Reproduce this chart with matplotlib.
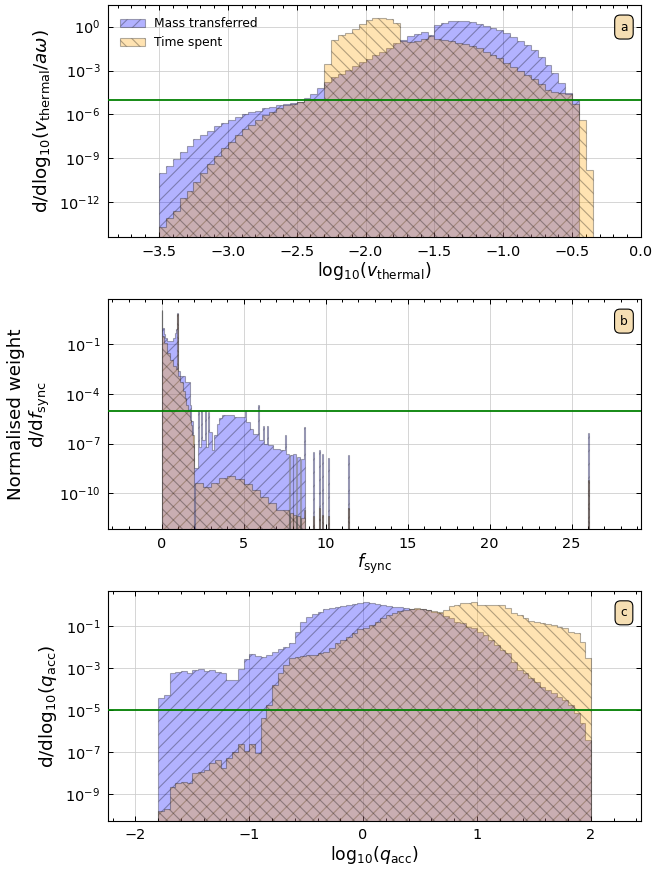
import numpy as np
import matplotlib
matplotlib.use("Agg")
import matplotlib.pyplot as plt
from matplotlib.ticker import MultipleLocator, FixedLocator, NullLocator, LogFormatterSciNotation

# ---------------- data (log10 of the normalised weights) ----------------
# (a) thermal velocity, 0.05-wide bins starting at -3.5
vth_start, vth_width = -3.5, 0.05
vth_mass = [-10.02, -9.5, -9.06, -8.57, -8.15, -7.7, -7.4, -7.1, -6.8, -6.55,
            -6.35, -6.15, -6.0, -5.85, -5.73, -5.58, -5.47, -5.38, -5.3, -5.23,
            -5.13, -4.85, -4.6, -4.2,
            -3.76, -3.46, -3.23, -2.96, -2.69, -2.43, -2.18, -1.96, -1.74, -1.45, -1.15,
            -0.88, -0.66, -0.47, -0.34, -0.55, 0.12, 0.27, 0.36, 0.39, 0.36,
            0.3, 0.2, 0.07, -0.08, -0.25, -0.45, -0.68, -0.96, -1.25, -1.59,
            -2.05, -2.62, -3.14, -3.85, -4.5, -5.0,
            None, None]
vth_time = [-13.67, -13.1, -12.6, -11.7, -11.2, -10.6, -10.02, -9.41, -8.82, -8.31,
            -7.86, -7.40, -6.99, -6.72, -6.38, -6.04, -5.81, -5.58, -5.35, -5.26,
            -5.13, -5.01, -4.97, -4.97,
            -2.55, -0.92, -0.6, -0.4, -0.15, 0.2, 0.46, 0.57, 0.62, 0.5, 0.25,
            -1.0, -1.05, -0.95, -0.85, -0.62, -0.82, -0.88, -1.0, -1.12, -1.2,
            -1.3, -1.48, -1.7, -1.93, -2.16, -2.45, -2.75, -3.05, -3.3, -3.6,
            -3.95, -4.3, -4.48, -4.55, -4.58, -5.3, -6.35, -9.8]

# (b) synchronicity factor, variable-width bins (None = empty bin)
fs_mass_edges = [0.00, 0.05, 0.12, 0.20, 0.30, 0.70, 0.80, 0.90, 0.96, 1.02,
                 1.15, 1.40, 1.75, 1.82, 1.90, 1.95, 2.24, 2.30, 2.42, 2.48,
                 2.62, 2.68, 2.82, 2.88, 3.10, 3.20, 3.35, 3.50, 3.70, 4.40,
                 5.10, 5.16, 5.40, 5.60, 5.86, 5.92, 6.20, 6.26, 6.45, 6.51,
                 6.80, 7.20, 7.50, 7.56, 7.75, 7.80, 8.00, 8.04, 8.20, 8.24,
                 8.45, 8.50, 8.70, 8.76, 9.22, 9.28, 9.62, 9.68, 9.80, 9.86,
                 10.13, 10.19, 11.35, 11.41, 25.98, 26.04]
fs_mass = [1.09, -0.02, -0.40, -0.62, -0.77, -0.62, -0.30, -0.10, 0.89, -2.60,
           -2.90, -3.30, -4.65, -5.65, -7.00, -8.50, -5.05, -7.20, -5.05, -6.80,
           -5.05, -7.20, -5.10, -6.30, -7.40, -6.50, -5.80, -5.45, -5.30, -5.40,
           -5.05, -5.70, -6.10, -6.40, -4.65, -6.80, -5.95, -7.00, -5.95, -7.10,
           -7.30, -7.40, -6.50, -7.60, None, -7.70, None, -7.60, None, -7.80,
           None, -7.90, -6.00, None, -7.50, None, -7.40, None, -7.60, None,
           -7.85, None, -7.70, None, -6.37]
fs_time_edges = [0.00, 0.05, 0.15, 0.30, 0.50, 0.70, 0.90, 0.96, 1.02, 1.15,
                 1.30, 1.40, 1.50, 1.60, 1.70, 1.80, 1.87, 1.95, 2.05, 2.50,
                 3.00, 3.50, 4.00, 4.50, 5.00, 5.50, 6.00, 6.50, 7.00, 7.75,
                 7.80, 8.00, 8.04, 8.20, 8.24, 8.45, 8.50, 8.70, 8.76, 9.22,
                 9.28, 9.62, 9.68, 9.80, 9.86, 10.13, 10.19, 11.35, 11.41, 25.98,
                 26.04]
fs_time = [1.00, -0.52, -0.92, -1.50, -1.93, -2.33, -2.50, 0.85, -2.90, -3.30,
           -3.84, -4.24, -4.65, -5.05, -5.55, -5.86, -6.46, None, -9.40, -9.60,
           -9.40, -9.10, -8.95, -9.15, -9.45, -9.80, -10.20, -10.60, -11.00, None,
           -11.20, None, -11.30, None, -11.40, None, -11.50, -11.00, None, -11.40,
           None, -10.90, None, -11.30, None, -11.40, None, -10.90, None, -9.22]

# (c) accretor mass ratio, 0.05-wide bins starting at -1.8
q_start, q_width = -1.8, 0.05
q_mass = [-4.45, -4.29, -3.26, -3.18, -3.15, -3.23, -3.10, -3.07, -3.14, -3.10,
          -3.18, -3.23, -3.58, -3.58, -3.07, -2.60, -2.36, -2.44, -2.47, -2.39,
          -2.23, -2.12, -2.03, -1.84, -1.28, -0.81, -0.57, -0.44, -0.33, -0.22,
          -0.17, -0.10, -0.05, -0.02, 0.03, 0.09,
          0.14, 0.10, 0.03, -0.02, -0.07, -0.10, -0.13, -0.17, -0.19, -0.21,
          -0.22, -0.27, -0.33, -0.41, -0.53, -0.65, -0.81, -0.89, -1.05, -1.12,
          -1.28, -1.44, -1.68, -1.91, -2.15, -2.31, -2.71, -3.10, -3.26, -3.50,
          -3.66, -3.90, -4.05, -4.21, -4.37, -4.53, -4.77, -5.16, -5.64, -6.43]
q_time = [-9.79, -9.72, -8.68, -8.49, -8.41, -8.49, -7.98, -7.95, -7.85, -7.54,
          -7.38, -7.77, -7.30, -6.99, -6.62, -6.94, -6.62, -7.06, -5.40, -4.77,
          -3.82, -3.26, -2.87, -2.55, -2.47, -2.44, -2.39, -2.39, -2.31, -2.23,
          -2.07, -1.84, -1.68, -1.52, -1.33, -1.17,
          -1.10, -0.95, -0.80, -0.65, -0.50, -0.38, -0.30, -0.23, -0.20, -0.18,
          -0.20, -0.24, -0.28, -0.33, -0.25, -0.07, -0.02, 0.06, 0.09, 0.14,
          -0.02, -0.02, -0.02, -0.02, -0.02, -0.17, -0.41, -0.49, -0.65, -0.76,
          -0.81, -0.86, -0.92, -0.99, -1.05, -1.12, -1.28, -1.36, -1.76, -2.55]

threshold = 1e-5
panel_tags = ["a", "b", "c"]
series_labels = ["Mass transferred", "Time spent"]

# ---------------- plotting ----------------
FLOOR = 1e-30
DPI = 80
plt.rcParams.update({
    "font.family": "DejaVu Sans",
    "mathtext.fontset": "dejavusans",
    "axes.linewidth": 1.0,
})

fig = plt.figure(figsize=(653 / DPI, 869 / DPI), dpi=DPI)
L, W = 108 / 653, 533 / 653
ax_a = fig.add_axes([L, 1 - 237 / 869, W, 232 / 869])
ax_b = fig.add_axes([L, 1 - 529 / 869, W, 229.7 / 869])
ax_c = fig.add_axes([L, 1 - 820.7 / 869, W, 229.7 / 869])


def regular_edges(start, width, n):
    return start + width * np.arange(n + 1)


def to_lin(logs):
    return np.array([FLOOR if v is None else 10.0 ** v for v in logs])


def draw(ax, edges, logs, color, hatch, label=None):
    ax.stairs(to_lin(logs), edges, baseline=FLOOR, fill=True,
              facecolor=color, edgecolor="k", hatch=hatch, alpha=0.3,
              linewidth=1.0, label=label)


BLUE, ORANGE = "blue", "orange"

draw(ax_a, regular_edges(vth_start, vth_width, len(vth_mass)), vth_mass, BLUE, "//", series_labels[0])
draw(ax_a, regular_edges(vth_start, vth_width, len(vth_time)), vth_time, ORANGE, "\\\\", series_labels[1])
draw(ax_b, fs_mass_edges, fs_mass, BLUE, "//")
draw(ax_b, fs_time_edges, fs_time, ORANGE, "\\\\")
draw(ax_c, regular_edges(q_start, q_width, len(q_mass)), q_mass, BLUE, "//")
draw(ax_c, regular_edges(q_start, q_width, len(q_time)), q_time, ORANGE, "\\\\")

settings = [
    (ax_a, (-3.87, 0.0), (10 ** -14.37, 10 ** 1.48), 0.5, 0.1, [1e0, 1e-3, 1e-6, 1e-9, 1e-12],
     r"log$_{10}$($v_{\rm thermal}$)", r"d/dlog$_{10}$($v_{\rm thermal}/a\omega$)"),
    (ax_b, (-3.27, 29.23), (10 ** -12.16, 10 ** 1.72), 5, 1, [1e-1, 1e-4, 1e-7, 1e-10],
     r"$f_{\rm sync}$", "Normalised weight\n" + r"d/d$f_{\rm sync}$"),
    (ax_c, (-2.24, 2.44), (10 ** -10.27, 10 ** 0.65), 1, 0.2, [1e-1, 1e-3, 1e-5, 1e-7, 1e-9],
     r"log$_{10}$($q_{\rm acc}$)", r"d/dlog$_{10}$($q_{\rm acc}$)"),
]

for (ax, xl, yl, xmaj, xmin, yt, xlab, ylab), tag in zip(settings, panel_tags):
    ax.set_yscale("log")
    ax.set_xlim(*xl)
    ax.set_ylim(*yl)
    ax.xaxis.set_major_locator(MultipleLocator(xmaj))
    ax.xaxis.set_minor_locator(MultipleLocator(xmin))
    ax.yaxis.set_major_locator(FixedLocator(yt))
    ax.yaxis.set_major_formatter(LogFormatterSciNotation())
    ax.yaxis.set_minor_locator(NullLocator())
    ax.tick_params(which="both", direction="in", top=True, right=True, labelsize=13)
    ax.tick_params(which="major", length=4.5, width=0.9, pad=7)
    ax.tick_params(which="minor", length=2.4, width=0.9)
    ax.grid(True, which="major", color="#cccccc", linewidth=0.9, alpha=0.8)
    ax.set_axisbelow(True)
    ax.axhline(threshold, color="green", linewidth=1.6, zorder=3)
    ax.set_xlabel(xlab, fontsize=15.5, labelpad=1)
    ax.set_ylabel(ylab, fontsize=16.5, labelpad=6)
    ax.text(0.968, 0.905, tag, transform=ax.transAxes, ha="center", va="center",
            fontsize=11,
            bbox=dict(boxstyle="round,pad=0.45", facecolor="wheat", edgecolor="black", linewidth=1.0))

ax_a.legend(loc="upper left", fontsize=11, frameon=False, borderaxespad=0.6)

fig.savefig("out.png", dpi=DPI)
